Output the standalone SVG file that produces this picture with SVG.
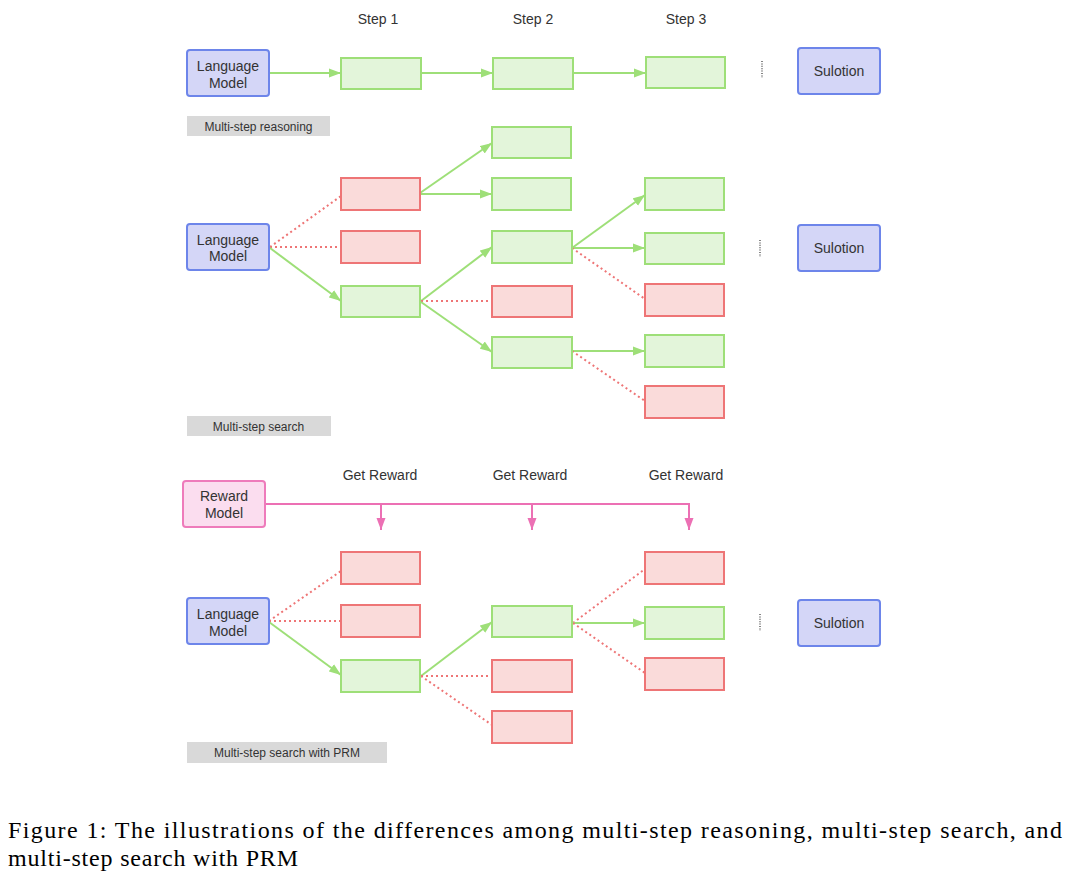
<svg xmlns="http://www.w3.org/2000/svg" width="1076" height="886" viewBox="0 0 1076 886">
<style>
.g{fill:#E3F5DA;stroke:#9EDF78;stroke-width:2}
.r{fill:#FADBDA;stroke:#EE7576;stroke-width:2}
.b{fill:#D4D6F7;stroke:#6D85EA;stroke-width:2}
.p{fill:#FBDDEF;stroke:#EE7BBB;stroke-width:2}
.lbl{fill:#D9D9D9}
.t{font-family:"Liberation Sans",Arial,Helvetica,sans-serif;font-size:14px;fill:#333;text-anchor:middle}
.s{font-family:"Liberation Sans",Arial,Helvetica,sans-serif;font-size:12px;fill:#333;text-anchor:middle}
.cap{font-family:"Liberation Serif","Times New Roman",serif;font-size:24px;fill:#000}
.ga{fill:none;stroke:#9EDF78;stroke-width:2;marker-end:url(#ag)}
.rd{fill:none;stroke:#EE7576;stroke-width:2;stroke-dasharray:2 3}
.pk{fill:none;stroke:#EC70B4;stroke-width:2;marker-end:url(#ap)}
.dots{stroke:#444;stroke-width:1.3;stroke-dasharray:1 1.4}
</style>
<defs>
<marker id="ag" markerUnits="userSpaceOnUse" markerWidth="12" markerHeight="10" refX="12" refY="5" orient="auto"><path d="M0,0.5 L12,5 L0,9.5 z" fill="#9EDF78"/></marker>
<marker id="ap" markerUnits="userSpaceOnUse" markerWidth="12" markerHeight="10" refX="12" refY="5" orient="auto"><path d="M0,0.5 L12,5 L0,9.5 z" fill="#EC70B4"/></marker>
</defs>
<rect width="1076" height="886" fill="#fff"/>

<g id="step-labels">
<text class="t" x="378" y="24">Step 1</text>
<text class="t" x="533" y="24">Step 2</text>
<text class="t" x="686" y="24">Step 3</text>
</g>

<g id="connectors">
<!-- section 1 -->
<path class="ga" d="M269,73 H341"/>
<path class="ga" d="M421,73 H493"/>
<path class="ga" d="M573,73 H646"/>
<!-- section 2 -->
<path class="rd" d="M270,247 L341,196"/>
<path class="rd" d="M270,247 H341"/>
<path class="ga" d="M270,248 L341,301"/>
<path class="ga" d="M420,193 L492,143"/>
<path class="ga" d="M420,194 H492"/>
<path class="ga" d="M421,301 L492,247"/>
<path class="rd" d="M421,301 H492"/>
<path class="ga" d="M421,302 L492,352"/>
<path class="ga" d="M572,248 L645,195"/>
<path class="ga" d="M572,248 H645"/>
<path class="rd" d="M572,248 L645,299"/>
<path class="ga" d="M572,351 H645"/>
<path class="rd" d="M572,351 L645,401"/>
<!-- section 3 -->
<path class="pk" d="M265,504 H689 V530"/>
<path class="pk" d="M381,504 V530"/>
<path class="pk" d="M532,504 V530"/>
<path class="rd" d="M269,621 L341,571"/>
<path class="rd" d="M269,621 H341"/>
<path class="ga" d="M269,622 L341,675"/>
<path class="ga" d="M421,676 L492,622"/>
<path class="rd" d="M421,676 H492"/>
<path class="rd" d="M421,676 L492,725"/>
<path class="rd" d="M573,623 L645,569"/>
<path class="ga" d="M573,623 H645"/>
<path class="rd" d="M573,623 L645,673"/>
</g>

<!-- Section 1: multi-step reasoning -->
<g id="lm1"><rect class="b" x="187" y="50" width="82" height="46" rx="3"/><text class="t" x="228" y="71">Language</text><text class="t" x="228" y="87.5">Model</text></g>
<g id="s1-step1"><rect class="g" x="341" y="58" width="80" height="31"/></g>
<g id="s1-step2"><rect class="g" x="493" y="58" width="80" height="31"/></g>
<g id="s1-step3"><rect class="g" x="646" y="57" width="79" height="31"/></g>
<g id="s1-dots"><line class="dots" x1="762" y1="61" x2="762" y2="78"/></g>
<g id="sol1"><rect class="b" x="798" y="48" width="82" height="46" rx="3"/><text class="t" x="839" y="76">Sulotion</text></g>
<g id="label1"><rect class="lbl" x="187" y="116" width="143" height="20"/><text class="s" x="258.5" y="131">Multi-step reasoning</text></g>

<!-- Section 2: multi-step search -->
<g id="lm2"><rect class="b" x="187" y="224" width="82" height="46" rx="3"/><text class="t" x="228" y="244.5">Language</text><text class="t" x="228" y="261">Model</text></g>
<g id="s2-a1"><rect class="r" x="341" y="178" width="79" height="32"/></g>
<g id="s2-a2"><rect class="r" x="341" y="231" width="79" height="32"/></g>
<g id="s2-a3"><rect class="g" x="341" y="286" width="79" height="31"/></g>
<g id="s2-b1"><rect class="g" x="492" y="127" width="79" height="31"/></g>
<g id="s2-b2"><rect class="g" x="492" y="178" width="79" height="32"/></g>
<g id="s2-b3"><rect class="g" x="492" y="231" width="80" height="32"/></g>
<g id="s2-b4"><rect class="r" x="492" y="286" width="80" height="31"/></g>
<g id="s2-b5"><rect class="g" x="492" y="337" width="80" height="31"/></g>
<g id="s2-c1"><rect class="g" x="645" y="178" width="79" height="32"/></g>
<g id="s2-c2"><rect class="g" x="645" y="233" width="79" height="31"/></g>
<g id="s2-c3"><rect class="r" x="645" y="284" width="79" height="32"/></g>
<g id="s2-c4"><rect class="g" x="645" y="335" width="79" height="32"/></g>
<g id="s2-c5"><rect class="r" x="645" y="386" width="79" height="32"/></g>
<g id="s2-dots"><line class="dots" x1="760" y1="240" x2="760" y2="257"/></g>
<g id="sol2"><rect class="b" x="798" y="225" width="82" height="46" rx="3"/><text class="t" x="839" y="253">Sulotion</text></g>
<g id="label2"><rect class="lbl" x="187" y="416" width="144" height="20"/><text class="s" x="258.5" y="431">Multi-step search</text></g>

<!-- Section 3: multi-step search with PRM -->
<g id="get-reward-labels">
<text class="t" x="380" y="480">Get Reward</text>
<text class="t" x="530" y="480">Get Reward</text>
<text class="t" x="686" y="480">Get Reward</text>
</g>
<g id="rm"><rect class="p" x="183" y="481" width="82" height="46" rx="3"/><text class="t" x="224" y="501">Reward</text><text class="t" x="224" y="518">Model</text></g>
<g id="lm3"><rect class="b" x="187" y="598" width="82" height="46" rx="3"/><text class="t" x="228" y="619">Language</text><text class="t" x="228" y="635.5">Model</text></g>
<g id="s3-a1"><rect class="r" x="341" y="552" width="79" height="32"/></g>
<g id="s3-a2"><rect class="r" x="341" y="605" width="79" height="32"/></g>
<g id="s3-a3"><rect class="g" x="341" y="660" width="79" height="32"/></g>
<g id="s3-b1"><rect class="g" x="492" y="606" width="80" height="31"/></g>
<g id="s3-b2"><rect class="r" x="492" y="660" width="80" height="32"/></g>
<g id="s3-b3"><rect class="r" x="492" y="711" width="80" height="32"/></g>
<g id="s3-c1"><rect class="r" x="645" y="552" width="79" height="32"/></g>
<g id="s3-c2"><rect class="g" x="645" y="607" width="79" height="32"/></g>
<g id="s3-c3"><rect class="r" x="645" y="658" width="79" height="32"/></g>
<g id="s3-dots"><line class="dots" x1="760" y1="614" x2="760" y2="631"/></g>
<g id="sol3"><rect class="b" x="798" y="600" width="82" height="46" rx="3"/><text class="t" x="839" y="628">Sulotion</text></g>
<g id="label3"><rect class="lbl" x="187" y="742" width="200" height="21"/><text class="s" x="287" y="757">Multi-step search with PRM</text></g>

<g id="caption">
<text class="cap" x="8" y="838" textLength="1054" lengthAdjust="spacing">Figure 1: The illustrations of the differences among multi-step reasoning, multi-step search, and</text>
<text class="cap" x="8" y="866" textLength="290" lengthAdjust="spacing">multi-step search with PRM</text>
</g>
</svg>
